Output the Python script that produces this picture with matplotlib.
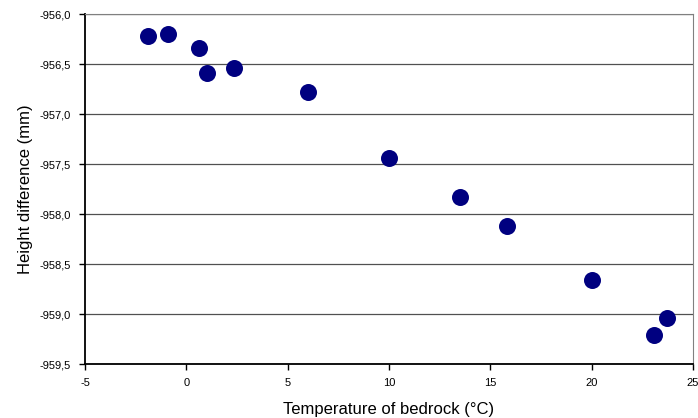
import matplotlib.pyplot as plt
from matplotlib.ticker import FuncFormatter

# Temperature of bedrock (°C) vs height difference (mm)
temperatura = [-1.9, -0.9, 0.6, 1.0, 2.35, 6.0, 10.0, 13.5, 15.8, 20.0, 23.7, 23.1]
diferencia = [-956.22, -956.20, -956.34, -956.59, -956.54, -956.78,
              -957.44, -957.83, -958.12, -958.66, -959.04, -959.21]

plt.rcParams['font.family'] = ['Liberation Sans', 'DejaVu Sans']
plt.rcParams['axes.unicode_minus'] = False

fig = plt.figure(figsize=(6.98, 4.18), dpi=100)
ax = fig.add_axes([0.1218, 0.129, 0.8710, 0.8375])

ax.scatter(temperatura, diferencia, s=150, color='#000080', zorder=3, linewidths=0)

ax.set_xlim(-5, 25)
ax.set_ylim(-959.5, -956.0)
ax.set_xticks(range(-5, 26, 5))
ax.set_yticks([-959.5 + 0.5 * i for i in range(8)])
ax.yaxis.set_major_formatter(FuncFormatter(lambda v, p: f'{v:.1f}'.replace('.', ',')))
ax.yaxis.grid(True, color='#505050', linewidth=0.9)
ax.set_axisbelow(True)

ax.spines['left'].set_color('black')
ax.spines['bottom'].set_color('black')
ax.spines['left'].set_linewidth(1.3)
ax.spines['bottom'].set_linewidth(1.3)
ax.spines['right'].set_color('#808080')
ax.spines['top'].set_color('#808080')

ax.tick_params(axis='both', direction='out', length=4, width=1, labelsize=8, pad=6)

ax.set_xlabel('Temperature of bedrock (°C)', fontsize=12, labelpad=10)
ax.set_ylabel('Height difference (mm)', fontsize=12, labelpad=5)

plt.savefig('out.png', dpi=100)
